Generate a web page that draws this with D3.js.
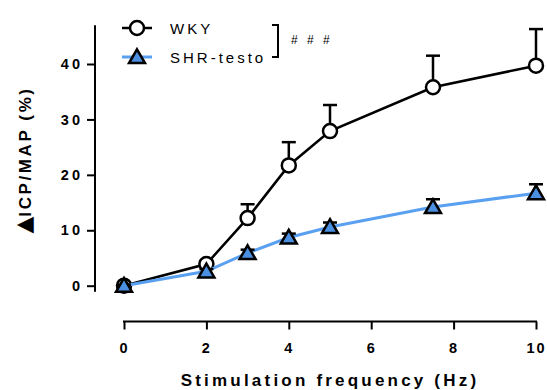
<!DOCTYPE html>
<html>
<head>
<meta charset="utf-8">
<script src="https://cdn.jsdelivr.net/npm/d3@7"></script>
<style>
  body { margin: 0; background: #fff; }
  svg { display: block; font-family: "Liberation Sans", Arial, sans-serif; }
  .tick text { font-weight: bold; font-size: 14.5px; letter-spacing: 3px; fill: #000; }
</style>
</head>
<body>
<div id="chart"></div>
<script>
// stimulation frequencies (Hz)
const freqs = [0, 2, 3, 4, 5, 7.5, 10];
// mean and SEM, ΔICP/MAP (%)
const wkyMean = [0, 3.9, 12.2, 21.7, 27.9, 35.8, 39.7];
const wkySem = [0.3, 0.6, 2.5, 4.2, 4.7, 5.7, 6.6];
const shrMean = [0, 2.6, 5.9, 8.7, 10.6, 14.2, 16.7];
const shrSem = [0.2, 0.4, 0.6, 0.7, 0.8, 1.4, 1.6];
const xTicks = [0, 2, 4, 6, 8, 10];
const yTicks = [0, 10, 20, 30, 40];
const seriesNames = ['WKY', 'SHR-testo'];

const width = 547, height = 390;
const blueLine = '#5aa0f0', blueFill = '#4a8fe0';

const svg = d3.select('#chart').append('svg')
  .attr('width', width)
  .attr('height', height);

const x = d3.scaleLinear().domain([0, 10]).range([124, 536]);
const y = d3.scaleLinear().domain([0, 40]).range([285.7, 64]);
const xAxisY = 321.5;
const yAxisX = 95;

// y axis
const yAxis = svg.append('g')
  .attr('transform', 'translate(' + yAxisX + ',0)')
  .call(d3.axisLeft(y).tickValues(yTicks).tickSize(8).tickPadding(4));
yAxis.select('.domain').remove();
yAxis.selectAll('.tick line').attr('stroke', '#000').attr('stroke-width', 2);
yAxis.append('line')
  .attr('x1', 0).attr('x2', 0)
  .attr('y1', y(47)).attr('y2', y(-1.1))
  .attr('stroke', '#000').attr('stroke-width', 2);

// x axis
const xAxis = svg.append('g')
  .attr('transform', 'translate(0,' + xAxisY + ')')
  .call(d3.axisBottom(x).tickValues(xTicks).tickSize(8).tickPadding(13));
xAxis.select('.domain').remove();
xAxis.selectAll('.tick line').attr('stroke', '#000').attr('stroke-width', 2);
xAxis.selectAll('.tick text').style('letter-spacing', '2px');
xAxis.append('line')
  .attr('x1', x(0) - 1).attr('x2', x(10) + 1)
  .attr('y1', 0).attr('y2', 0)
  .attr('stroke', '#000').attr('stroke-width', 2);

// axis titles
svg.append('text')
  .attr('x', 330).attr('y', 386)
  .attr('text-anchor', 'middle')
  .style('font-weight', 'bold').style('font-size', '17px').style('letter-spacing', '3.2px')
  .text('Stimulation frequency (Hz)');

const yTitle = svg.append('text')
  .attr('transform', 'translate(31,160) rotate(-90)')
  .attr('text-anchor', 'middle')
  .style('font-weight', 'bold').style('font-size', '17px').style('letter-spacing', '2.6px');
yTitle.append('tspan')
  .style('font-family', '"DejaVu Sans"').style('font-size', '22px').style('letter-spacing', '0px')
  .text('▲');
yTitle.append('tspan').text('ICP/MAP (%)');

const line = d3.line()
  .x(d => x(d[0]))
  .y(d => y(d[1]));

const triangle = d3.symbol().type(d3.symbolTriangle).size(110);

function drawSeries(mean, sem, color, lineWidth, marker) {
  const pts = freqs.map((f, i) => [f, mean[i], sem[i]]);
  const g = svg.append('g');
  g.append('path')
    .attr('d', line(pts))
    .attr('fill', 'none')
    .attr('stroke', color)
    .attr('stroke-width', lineWidth);
  const err = g.selectAll('.err').data(pts).enter().append('g');
  err.append('line')
    .attr('x1', d => x(d[0])).attr('x2', d => x(d[0]))
    .attr('y1', d => y(d[1])).attr('y2', d => y(d[1] + d[2]))
    .attr('stroke', '#000').attr('stroke-width', 2.5);
  err.append('line')
    .attr('x1', d => x(d[0]) - 7).attr('x2', d => x(d[0]) + 7)
    .attr('y1', d => y(d[1] + d[2])).attr('y2', d => y(d[1] + d[2]))
    .attr('stroke', '#000').attr('stroke-width', 2.5);
  marker(g.selectAll('.pt').data(pts).enter(), d => x(d[0]), d => y(d[1]));
}

function circleMarker(sel, cx, cy) {
  return sel.append('circle')
    .attr('cx', cx).attr('cy', cy).attr('r', 7)
    .attr('fill', '#fff').attr('stroke', '#000').attr('stroke-width', 2.5);
}

function triangleMarker(sel, cx, cy) {
  return sel.append('path')
    .attr('d', triangle)
    .attr('transform', d => 'translate(' + cx(d) + ',' + (cy(d) + 1.5) + ')')
    .attr('fill', blueFill).attr('stroke', '#000').attr('stroke-width', 2.5)
    .attr('stroke-linejoin', 'miter');
}

drawSeries(wkyMean, wkySem, '#000', 2.5, circleMarker);
drawSeries(shrMean, shrSem, blueLine, 3, triangleMarker);

// legend
const legend = svg.append('g');
const legendRows = [
  { name: seriesNames[0], y: 28, color: '#000', w: 2.5, marker: circleMarker },
  { name: seriesNames[1], y: 57, color: blueLine, w: 3, marker: triangleMarker }
];
legendRows.forEach(r => {
  legend.append('line')
    .attr('x1', 122).attr('x2', 152)
    .attr('y1', r.y).attr('y2', r.y)
    .attr('stroke', r.color).attr('stroke-width', r.w);
  r.marker(legend.selectAll(null).data([0]).enter(), () => 137, () => r.y);
  legend.append('text')
    .attr('x', 170).attr('y', r.y + 5.5)
    .style('font-size', '15px').style('letter-spacing', '3px')
    .text(r.name);
});

// significance bracket
legend.append('path')
  .attr('d', 'M272,25H278V57H272')
  .attr('fill', 'none').attr('stroke', '#000').attr('stroke-width', 2);
legend.append('text')
  .attr('x', 291).attr('y', 44)
  .style('font-size', '12px').style('letter-spacing', '3px')
  .text('# # #');
</script>
</body>
</html>
